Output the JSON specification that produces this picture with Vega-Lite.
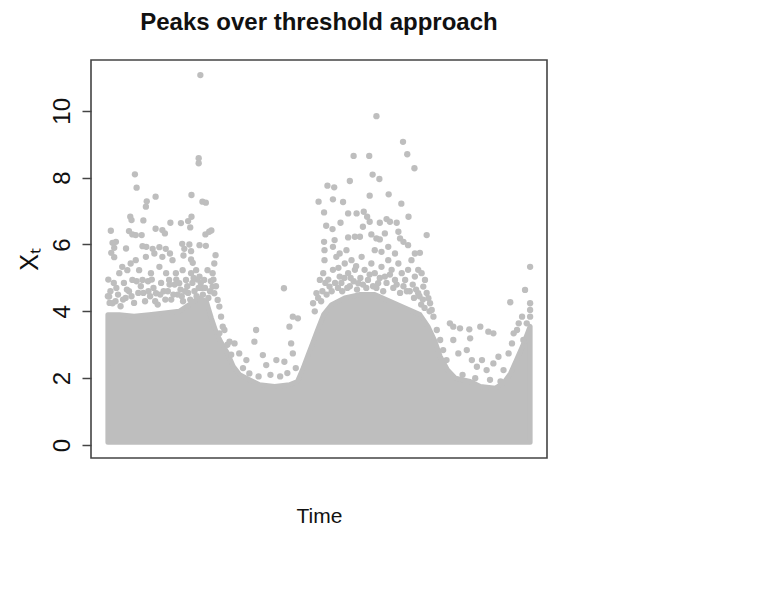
{
  "$schema": "https://vega.github.io/schema/vega-lite/v6.json",
  "width": 456,
  "height": 398,
  "autosize": {"type": "none"},
  "padding": {"left": 91, "top": 60, "right": 235, "bottom": 151},
  "background": "white",
  "title": {
    "text": "Peaks over threshold approach",
    "font": "Liberation Sans",
    "fontSize": 24,
    "fontWeight": "bold",
    "color": "#111111",
    "anchor": "middle",
    "frame": "group",
    "baseline": "alphabetic",
    "offset": 6
  },
  "config": {
    "view": {"stroke": "#444444", "strokeWidth": 1.6},
    "font": "Liberation Sans"
  },
  "datasets": {
    "cloud": [
      {"time": 0, "upper": 3.9}, {"time": 27, "upper": 3.9}, {"time": 62, "upper": 3.85},
      {"time": 98, "upper": 3.9}, {"time": 134, "upper": 3.95}, {"time": 169, "upper": 4.0},
      {"time": 193, "upper": 4.2}, {"time": 216, "upper": 4.4}, {"time": 233, "upper": 4.3},
      {"time": 245, "upper": 3.8}, {"time": 257, "upper": 3.35}, {"time": 269, "upper": 3.05},
      {"time": 283, "upper": 2.75}, {"time": 297, "upper": 2.35}, {"time": 312, "upper": 2.1},
      {"time": 335, "upper": 1.95}, {"time": 359, "upper": 1.8}, {"time": 395, "upper": 1.75},
      {"time": 430, "upper": 1.8}, {"time": 449, "upper": 1.9}, {"time": 461, "upper": 2.25},
      {"time": 473, "upper": 2.65}, {"time": 485, "upper": 3.05}, {"time": 497, "upper": 3.45},
      {"time": 511, "upper": 3.9}, {"time": 530, "upper": 4.2}, {"time": 561, "upper": 4.4},
      {"time": 596, "upper": 4.5}, {"time": 632, "upper": 4.5}, {"time": 668, "upper": 4.3},
      {"time": 704, "upper": 4.1}, {"time": 739, "upper": 3.9}, {"time": 758, "upper": 3.55},
      {"time": 773, "upper": 3.15}, {"time": 787, "upper": 2.65}, {"time": 804, "upper": 2.25},
      {"time": 823, "upper": 2.0}, {"time": 858, "upper": 1.9}, {"time": 882, "upper": 1.75},
      {"time": 918, "upper": 1.7}, {"time": 937, "upper": 1.85}, {"time": 954, "upper": 2.15},
      {"time": 968, "upper": 2.55}, {"time": 982, "upper": 2.95}, {"time": 994, "upper": 3.35},
      {"time": 1000, "upper": 3.55}
    ],
    "peaks": [
      {"time": 219, "value": 11.07}, {"time": 215, "value": 8.58}, {"time": 215, "value": 8.43},
      {"time": 64, "value": 8.1}, {"time": 68, "value": 7.7}, {"time": 198, "value": 7.48},
      {"time": 113, "value": 7.43}, {"time": 92, "value": 7.29}, {"time": 90, "value": 7.13},
      {"time": 224, "value": 7.28}, {"time": 232, "value": 7.25}, {"time": 53, "value": 6.83},
      {"time": 56, "value": 6.73}, {"time": 84, "value": 6.72}, {"time": 198, "value": 6.83},
      {"time": 7, "value": 6.41}, {"time": 148, "value": 6.65}, {"time": 173, "value": 6.64},
      {"time": 190, "value": 6.7}, {"time": 195, "value": 6.51}, {"time": 113, "value": 6.47},
      {"time": 129, "value": 6.43}, {"time": 135, "value": 6.33}, {"time": 50, "value": 6.4},
      {"time": 58, "value": 6.3}, {"time": 66, "value": 6.28}, {"time": 80, "value": 6.28},
      {"time": 11, "value": 6.05}, {"time": 19, "value": 6.08}, {"time": 231, "value": 6.3},
      {"time": 240, "value": 6.38}, {"time": 245, "value": 6.42}, {"time": 15, "value": 5.9},
      {"time": 8, "value": 5.75}, {"time": 15, "value": 5.62}, {"time": 43, "value": 5.88},
      {"time": 82, "value": 5.95}, {"time": 91, "value": 5.93}, {"time": 106, "value": 5.87},
      {"time": 122, "value": 5.92}, {"time": 137, "value": 5.87}, {"time": 147, "value": 5.73},
      {"time": 176, "value": 6.02}, {"time": 181, "value": 5.87}, {"time": 179, "value": 5.67},
      {"time": 193, "value": 6.0}, {"time": 197, "value": 5.8}, {"time": 197, "value": 5.55},
      {"time": 201, "value": 5.45}, {"time": 217, "value": 5.98}, {"time": 232, "value": 5.96},
      {"time": 255, "value": 5.68}, {"time": 1, "value": 4.95},
      {"time": 3, "value": 4.44}, {"time": 11, "value": 4.24}, {"time": 27, "value": 5.14},
      {"time": 34, "value": 5.33}, {"time": 46, "value": 5.23}, {"time": 54, "value": 5.43},
      {"time": 58, "value": 4.94}, {"time": 66, "value": 5.53}, {"time": 74, "value": 5.23},
      {"time": 82, "value": 4.94}, {"time": 90, "value": 5.63}, {"time": 102, "value": 5.14},
      {"time": 110, "value": 5.73}, {"time": 114, "value": 4.54}, {"time": 122, "value": 5.33},
      {"time": 129, "value": 5.63}, {"time": 138, "value": 5.14}, {"time": 145, "value": 4.94},
      {"time": 153, "value": 5.53}, {"time": 161, "value": 5.14}, {"time": 169, "value": 4.84},
      {"time": 177, "value": 5.23}, {"time": 185, "value": 4.94}, {"time": 197, "value": 5.14},
      {"time": 209, "value": 5.23}, {"time": 217, "value": 5.04}, {"time": 228, "value": 4.94},
      {"time": 236, "value": 5.23}, {"time": 248, "value": 4.74}, {"time": 252, "value": 4.54},
      {"time": 260, "value": 4.34}, {"time": 264, "value": 4.14}, {"time": 268, "value": 3.84},
      {"time": 272, "value": 3.54}, {"time": 252, "value": 5.43}, {"time": 248, "value": 5.14},
      {"time": 0, "value": 4.45}, {"time": 4, "value": 4.25}, {"time": 18, "value": 4.3},
      {"time": 30, "value": 4.15}, {"time": 42, "value": 4.4}, {"time": 62, "value": 4.25},
      {"time": 72, "value": 4.55}, {"time": 88, "value": 4.3}, {"time": 100, "value": 4.45},
      {"time": 118, "value": 4.2}, {"time": 132, "value": 4.6}, {"time": 150, "value": 4.35},
      {"time": 165, "value": 4.5}, {"time": 178, "value": 4.3}, {"time": 190, "value": 4.55},
      {"time": 205, "value": 4.6}, {"time": 215, "value": 4.7}, {"time": 225, "value": 4.5},
      {"time": 238, "value": 4.4}, {"time": 20, "value": 4.7}, {"time": 38, "value": 4.85},
      {"time": 50, "value": 4.6}, {"time": 78, "value": 4.75}, {"time": 95, "value": 4.9},
      {"time": 108, "value": 4.7}, {"time": 126, "value": 4.85}, {"time": 142, "value": 4.6},
      {"time": 158, "value": 4.8}, {"time": 172, "value": 4.65}, {"time": 188, "value": 4.75},
      {"time": 200, "value": 4.85}, {"time": 212, "value": 4.95}, {"time": 222, "value": 4.7},
      {"time": 244, "value": 4.9},
      {"time": 6, "value": 4.6}, {"time": 14, "value": 4.85}, {"time": 24, "value": 4.5},
      {"time": 36, "value": 4.35}, {"time": 45, "value": 4.65}, {"time": 56, "value": 4.45},
      {"time": 68, "value": 4.9}, {"time": 84, "value": 4.55}, {"time": 96, "value": 4.6},
      {"time": 104, "value": 4.95}, {"time": 112, "value": 4.3}, {"time": 124, "value": 4.5},
      {"time": 136, "value": 4.35}, {"time": 146, "value": 4.8}, {"time": 155, "value": 4.5},
      {"time": 162, "value": 4.95}, {"time": 175, "value": 4.45}, {"time": 183, "value": 4.6},
      {"time": 195, "value": 4.35}, {"time": 203, "value": 5.0}, {"time": 210, "value": 4.45},
      {"time": 220, "value": 4.85}, {"time": 230, "value": 4.7}, {"time": 242, "value": 4.6},
      {"time": 250, "value": 4.95}, {"time": 256, "value": 4.75},
      {"time": 264, "value": 3.34}, {"time": 276, "value": 3.44}, {"time": 288, "value": 3.09},
      {"time": 300, "value": 3.04}, {"time": 311, "value": 2.74}, {"time": 328, "value": 2.54},
      {"time": 347, "value": 3.09}, {"time": 351, "value": 3.44}, {"time": 367, "value": 2.69},
      {"time": 375, "value": 2.39}, {"time": 399, "value": 2.54}, {"time": 418, "value": 2.49},
      {"time": 417, "value": 4.69}, {"time": 438, "value": 3.84}, {"time": 450, "value": 3.79},
      {"time": 430, "value": 3.54}, {"time": 434, "value": 3.04}, {"time": 438, "value": 2.74},
      {"time": 335, "value": 2.14}, {"time": 320, "value": 2.3}, {"time": 357, "value": 2.05},
      {"time": 385, "value": 2.1}, {"time": 408, "value": 2.05}, {"time": 425, "value": 2.15},
      {"time": 445, "value": 2.3}, {"time": 283, "value": 3.0}, {"time": 292, "value": 2.7},
      {"time": 636, "value": 9.84}, {"time": 699, "value": 9.07}, {"time": 709, "value": 8.7},
      {"time": 726, "value": 8.28}, {"time": 582, "value": 8.65}, {"time": 619, "value": 8.65},
      {"time": 520, "value": 7.76}, {"time": 536, "value": 7.71}, {"time": 573, "value": 7.9},
      {"time": 627, "value": 8.09}, {"time": 643, "value": 7.96}, {"time": 499, "value": 7.28},
      {"time": 533, "value": 7.35}, {"time": 557, "value": 7.27}, {"time": 620, "value": 7.46},
      {"time": 665, "value": 7.5}, {"time": 695, "value": 7.22}, {"time": 512, "value": 6.96},
      {"time": 569, "value": 6.93}, {"time": 589, "value": 6.93}, {"time": 606, "value": 6.98},
      {"time": 614, "value": 6.83}, {"time": 620, "value": 6.68}, {"time": 712, "value": 6.83},
      {"time": 517, "value": 6.56}, {"time": 532, "value": 6.46}, {"time": 551, "value": 6.65},
      {"time": 644, "value": 6.65}, {"time": 660, "value": 6.76}, {"time": 668, "value": 6.68},
      {"time": 684, "value": 6.65}, {"time": 755, "value": 6.28}, {"time": 512, "value": 6.08},
      {"time": 513, "value": 5.83}, {"time": 537, "value": 6.13}, {"time": 569, "value": 6.21},
      {"time": 585, "value": 6.23}, {"time": 597, "value": 6.23}, {"time": 624, "value": 6.3},
      {"time": 636, "value": 6.18}, {"time": 644, "value": 6.15}, {"time": 692, "value": 6.18},
      {"time": 700, "value": 6.08}, {"time": 711, "value": 5.98}, {"time": 727, "value": 5.73},
      {"time": 739, "value": 5.75}, {"time": 632, "value": 5.83}, {"time": 648, "value": 5.78},
      {"time": 664, "value": 5.93},
      {"time": 486, "value": 4.24}, {"time": 494, "value": 4.54}, {"time": 502, "value": 4.94},
      {"time": 510, "value": 5.14}, {"time": 513, "value": 5.53}, {"time": 525, "value": 4.74},
      {"time": 533, "value": 5.24}, {"time": 541, "value": 5.63}, {"time": 549, "value": 5.04},
      {"time": 561, "value": 5.43}, {"time": 569, "value": 5.14}, {"time": 577, "value": 5.53},
      {"time": 585, "value": 5.24}, {"time": 593, "value": 4.84}, {"time": 601, "value": 5.63},
      {"time": 608, "value": 5.24}, {"time": 616, "value": 4.94}, {"time": 624, "value": 5.43},
      {"time": 632, "value": 5.14}, {"time": 640, "value": 4.84}, {"time": 648, "value": 5.33},
      {"time": 656, "value": 5.04}, {"time": 664, "value": 5.53}, {"time": 672, "value": 5.24},
      {"time": 680, "value": 4.94}, {"time": 688, "value": 5.43}, {"time": 696, "value": 5.14},
      {"time": 704, "value": 4.94}, {"time": 711, "value": 5.24}, {"time": 719, "value": 5.53},
      {"time": 727, "value": 5.04}, {"time": 735, "value": 5.24}, {"time": 743, "value": 5.14},
      {"time": 751, "value": 4.94}, {"time": 747, "value": 4.74}, {"time": 735, "value": 4.54},
      {"time": 759, "value": 4.39}, {"time": 533, "value": 5.93}, {"time": 549, "value": 5.73},
      {"time": 565, "value": 5.83}, {"time": 680, "value": 5.73}, {"time": 688, "value": 6.38},
      {"time": 604, "value": 6.53}, {"time": 656, "value": 6.33},
      {"time": 505, "value": 4.3}, {"time": 518, "value": 4.5}, {"time": 545, "value": 4.7},
      {"time": 555, "value": 4.6}, {"time": 573, "value": 4.75}, {"time": 590, "value": 4.65},
      {"time": 612, "value": 4.7}, {"time": 628, "value": 4.75}, {"time": 652, "value": 4.6},
      {"time": 676, "value": 4.7}, {"time": 692, "value": 4.55}, {"time": 715, "value": 4.6},
      {"time": 725, "value": 4.4}, {"time": 742, "value": 4.2}, {"time": 750, "value": 4.1},
      {"time": 490, "value": 4.0}, {"time": 498, "value": 4.4}, {"time": 508, "value": 4.6},
      {"time": 515, "value": 4.85}, {"time": 522, "value": 4.95}, {"time": 530, "value": 4.6},
      {"time": 538, "value": 4.85}, {"time": 546, "value": 5.3}, {"time": 553, "value": 4.85},
      {"time": 560, "value": 5.0}, {"time": 567, "value": 4.7}, {"time": 575, "value": 5.0},
      {"time": 582, "value": 4.9}, {"time": 588, "value": 5.35}, {"time": 598, "value": 5.0},
      {"time": 604, "value": 4.8}, {"time": 620, "value": 5.1}, {"time": 636, "value": 4.7},
      {"time": 644, "value": 5.0}, {"time": 660, "value": 4.85}, {"time": 668, "value": 5.1},
      {"time": 684, "value": 4.8}, {"time": 700, "value": 4.75}, {"time": 708, "value": 4.6},
      {"time": 722, "value": 4.8}, {"time": 730, "value": 4.65}, {"time": 738, "value": 4.45},
      {"time": 746, "value": 4.35}, {"time": 755, "value": 4.55}, {"time": 762, "value": 4.0},
      {"time": 763, "value": 4.24}, {"time": 767, "value": 4.04}, {"time": 779, "value": 3.44},
      {"time": 787, "value": 3.14}, {"time": 794, "value": 2.84}, {"time": 802, "value": 2.54},
      {"time": 818, "value": 3.14}, {"time": 830, "value": 2.74}, {"time": 850, "value": 2.84},
      {"time": 862, "value": 2.54}, {"time": 874, "value": 2.34}, {"time": 886, "value": 2.54},
      {"time": 897, "value": 2.24}, {"time": 913, "value": 2.44}, {"time": 925, "value": 2.64},
      {"time": 937, "value": 2.24}, {"time": 949, "value": 2.74}, {"time": 957, "value": 3.04},
      {"time": 961, "value": 3.34}, {"time": 969, "value": 3.44}, {"time": 973, "value": 3.64},
      {"time": 981, "value": 3.84}, {"time": 984, "value": 3.14}, {"time": 992, "value": 3.64},
      {"time": 1000, "value": 3.84}, {"time": 810, "value": 3.64}, {"time": 818, "value": 3.54},
      {"time": 834, "value": 3.49}, {"time": 856, "value": 3.46}, {"time": 858, "value": 3.19},
      {"time": 882, "value": 3.54}, {"time": 901, "value": 3.39}, {"time": 913, "value": 3.34},
      {"time": 771, "value": 3.84}, {"time": 1000, "value": 5.33}, {"time": 988, "value": 4.64},
      {"time": 953, "value": 4.27}, {"time": 1000, "value": 4.24}, {"time": 1000, "value": 4.04},
      {"time": 840, "value": 2.1}, {"time": 870, "value": 2.0}, {"time": 905, "value": 1.95},
      {"time": 930, "value": 1.9}
    ]
  },
  "layer": [
    {
      "data": {"name": "cloud"},
      "mark": {
        "type": "area",
        "color": "#bebebe",
        "stroke": "#bebebe",
        "strokeWidth": 5,
        "strokeJoin": "round",
        "interpolate": "linear"
      },
      "encoding": {
        "x": {
          "field": "time",
          "type": "quantitative",
          "scale": {"domain": [-40, 1040], "nice": false, "zero": false},
          "axis": {
            "title": "Time",
            "labels": false,
            "ticks": false,
            "domain": false,
            "grid": false,
            "titleFont": "Liberation Sans",
            "titleFontSize": 21,
            "titleFontWeight": "normal",
            "titleColor": "#111111",
            "titleBaseline": "alphabetic",
            "titleY": 64
          }
        },
        "y": {
          "field": "upper",
          "type": "quantitative",
          "scale": {"domain": [-0.39, 11.52], "nice": false, "zero": false},
          "axis": {
            "title": "Xₜ",
            "values": [0, 2, 4, 6, 8, 10],
            "grid": false,
            "domain": false,
            "tickSize": 9,
            "tickColor": "#444444",
            "tickWidth": 1.5,
            "labelAngle": -90,
            "labelAlign": "center",
            "labelBaseline": "alphabetic",
            "labelPadding": 13,
            "labelFont": "Liberation Sans",
            "labelFontSize": 24,
            "labelColor": "#111111",
            "titleFont": "Liberation Sans",
            "titleFontSize": 25,
            "titleFontWeight": "normal",
            "titleColor": "#111111",
            "titleAngle": -90,
            "titleAlign": "center",
            "titleBaseline": "alphabetic",
            "titleX": -54,
            "titleY": 199
          }
        },
        "y2": {"datum": 0.08}
      }
    },
    {
      "data": {"name": "peaks"},
      "mark": {"type": "point", "filled": true, "size": 40, "color": "#bebebe", "opacity": 1},
      "encoding": {
        "x": {"field": "time", "type": "quantitative"},
        "y": {"field": "value", "type": "quantitative"}
      }
    }
  ]
}
